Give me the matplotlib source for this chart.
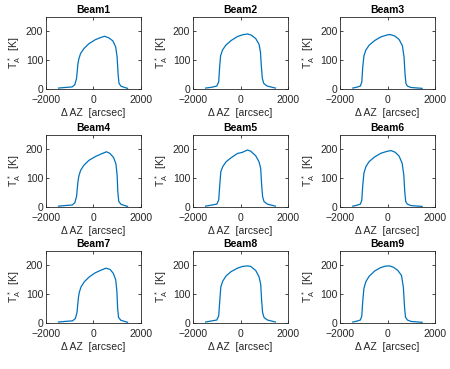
import numpy as np
import matplotlib
matplotlib.use('Agg')
import matplotlib.pyplot as plt

plt.rcParams['font.family'] = ['Liberation Sans', 'DejaVu Sans']
plt.rcParams['mathtext.fontset'] = 'custom'
plt.rcParams['mathtext.rm'] = 'Liberation Sans'
plt.rcParams['mathtext.it'] = 'Liberation Sans'

beam_names = ['Beam1', 'Beam2', 'Beam3', 'Beam4', 'Beam5', 'Beam6', 'Beam7', 'Beam8', 'Beam9']

# azimuth offsets [arcsec] and antenna temperature [K]
az1 = [-1470, -1200, -890, -780, -710, -650, -610, -540, -400, -190, 80, 290, 470, 640, 820, 940, 1000, 1040, 1080, 1170, 1440]
ta1 = [3, 5, 7, 15, 36, 88, 105, 123, 140, 157, 171, 178, 183, 178, 167, 146, 111, 53, 19, 9, 2]

az2 = [-1470, -1200, -1000, -920, -880, -840, -760, -620, -400, -130, 80, 300, 450, 640, 780, 840, 880, 920, 980, 1120, 1470]
ta2 = [3, 6, 10, 24, 76, 115, 135, 152, 168, 182, 188, 191, 187, 175, 155, 128, 76, 36, 19, 10, 3]

az3 = [-1470, -1300, -1150, -1090, -1050, -1000, -920, -780, -550, -280, 0, 100, 300, 480, 620, 690, 730, 770, 830, 980, 1450]
ta3 = [3, 6, 10, 24, 76, 115, 135, 152, 168, 181, 188, 189, 184, 172, 150, 111, 53, 19, 10, 5, 2]

az4 = [-1470, -1200, -890, -780, -710, -650, -610, -540, -400, -190, 80, 290, 550, 700, 850, 950, 1000, 1030, 1070, 1170, 1440]
ta4 = [3, 5, 7, 15, 36, 88, 108, 127, 145, 162, 175, 183, 192, 186, 172, 150, 111, 53, 19, 9, 2]

az5 = [-1470, -1000, -920, -875, -830, -750, -610, -400, -130, 80, 290, 430, 640, 780, 850, 890, 930, 990, 1130, 1470]
ta5 = [3, 10, 24, 76, 123, 140, 157, 171, 186, 190, 198, 194, 178, 157, 134, 76, 36, 19, 10, 3]

az6 = [-1470, -1300, -1150, -1090, -1050, -1000, -920, -780, -550, -280, 0, 150, 320, 480, 610, 680, 720, 760, 830, 980, 1450]
ta6 = [3, 6, 10, 24, 76, 118, 140, 158, 174, 187, 194, 196, 190, 177, 152, 111, 53, 19, 10, 5, 2]

az7 = [-1470, -1200, -880, -760, -690, -630, -590, -520, -380, -170, 80, 290, 530, 700, 840, 940, 990, 1020, 1060, 1160, 1440]
ta7 = [3, 5, 7, 15, 36, 88, 107, 125, 143, 160, 174, 182, 190, 186, 172, 150, 111, 53, 19, 9, 2]

az8 = [-1470, -1000, -920, -875, -830, -750, -610, -400, -130, 80, 290, 430, 640, 780, 850, 890, 930, 990, 1130, 1470]
ta8 = [3, 10, 24, 76, 125, 145, 163, 178, 190, 196, 198, 196, 182, 160, 134, 76, 36, 19, 10, 3]

az9 = [-1470, -1300, -1150, -1090, -1050, -1000, -920, -780, -550, -300, -100, 80, 250, 430, 580, 660, 710, 750, 830, 980, 1450]
ta9 = [3, 6, 10, 24, 76, 120, 143, 162, 180, 192, 197, 198, 193, 182, 165, 125, 55, 20, 10, 5, 2]

scans = [(az1, ta1), (az2, ta2), (az3, ta3), (az4, ta4), (az5, ta5),
         (az6, ta6), (az7, ta7), (az8, ta8), (az9, ta9)]

x_ticks = [-2000, 0, 2000]
y_ticks = [0, 100, 200]

fig = plt.figure(figsize=(4.5, 3.69), dpi=100)
fig.patch.set_facecolor('white')

lefts = [0.102, 0.429, 0.756]
bottoms = [0.759, 0.439, 0.125]
w, h = 0.211, 0.195
dark = '#262626'

for i, (name, (az, ta)) in enumerate(zip(beam_names, scans)):
    ax = fig.add_axes([lefts[i % 3], bottoms[i // 3], w, h])
    ax.plot(az, ta, color='#0072BD', linewidth=0.9)
    ax.set_xlim(-2000, 2000)
    ax.set_ylim(0, 250)
    ax.set_xticks(x_ticks)
    ax.set_yticks(y_ticks)
    ax.tick_params(direction='in', length=2.5, width=0.6, labelsize=7.5,
                   colors=dark, top=True, right=True)
    ax.tick_params(axis='x', pad=4.5)
    ax.tick_params(axis='y', pad=2)
    for s in ax.spines.values():
        s.set_color(dark)
        s.set_linewidth(0.6)
    ax.set_title(name, fontsize=7.5, fontweight='bold', pad=3)
    ax.set_xlabel(u'\u0394 AZ  [arcsec]', fontsize=7.5, color=dark, labelpad=2)
    ax.set_ylabel(r'$T_A^*$  [K]', fontsize=7.5, color=dark, labelpad=2)

fig.savefig('out.png', dpi=100)
